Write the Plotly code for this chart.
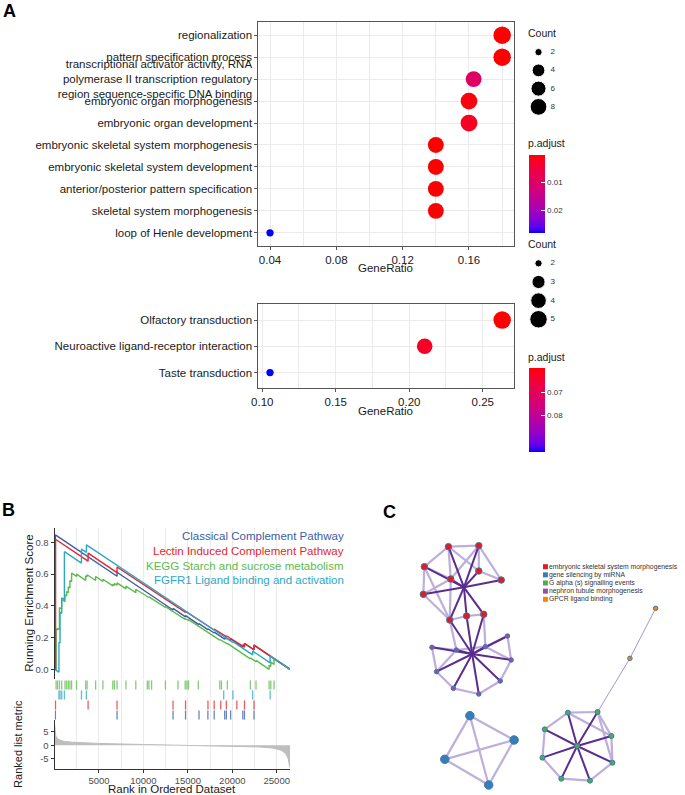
import math
import plotly.graph_objects as go

W, H = 685, 795
FONT = "Liberation Sans, Arial, Helvetica, sans-serif"


def px(x):
    return x / W


def py(y):
    return 1 - y / H


# ---------------- Panel A data (GO) ----------------
go_terms = [
    "regionalization",
    "pattern specification process",
    "transcriptional activator activity, RNA<br>polymerase II transcription regulatory<br>region sequence-specific DNA binding",
    "embryonic organ morphogenesis",
    "embryonic organ development",
    "embryonic skeletal system morphogenesis",
    "embryonic skeletal system development",
    "anterior/posterior pattern specification",
    "skeletal system morphogenesis",
    "loop of Henle development",
]
go_ratio = [0.18, 0.18, 0.1628, 0.16, 0.16, 0.14, 0.14, 0.14, 0.14, 0.04]
go_count = [9, 9, 7, 8, 8, 7, 7, 7, 7, 2]
go_padj = [0.00012, 0.00012, 0.0095, 0.0009, 0.0022, 0.00012, 0.00012, 0.0003, 0.0003, 0.0281]
go_count_breaks = [2, 4, 6, 8]
go_padj_ticks = [0.01, 0.02]
go_x_ticks = [0.04, 0.08, 0.12, 0.16]

# ---------------- Panel A data (KEGG) ----------------
kegg_terms = ["Olfactory transduction", "Neuroactive ligand-receptor interaction", "Taste transduction"]
kegg_ratio = [0.2632, 0.2105, 0.1053]
kegg_count = [5, 4, 2]
kegg_padj = [0.0591, 0.0625, 0.0962]
kegg_count_breaks = [2, 3, 4, 5]
kegg_padj_ticks = [0.07, 0.08]
kegg_x_ticks = [0.10, 0.15, 0.20, 0.25]

# ---------------- Panel B data (GSEA) ----------------
n_genes = 26500
gsea_names = ["Classical Complement Pathway", "Lectin Induced Complement Pathway",
              "KEGG Starch and sucrose metabolism", "FGFR1 Ligand binding and activation"]
cc_hits = [100, 7033, 13333, 14740, 16255, 17255, 17963, 19144, 19330, 19815, 21180, 21370, 22444]
cc_before = [0, 0.587, 0.374, 0.331, 0.282, 0.250, 0.229, 0.190, 0.191, 0.181, 0.140, 0.148, 0.123]
cc_after = [0.848, 0.612, 0.384, 0.339, 0.288, 0.256, 0.235, 0.198, 0.199, 0.191, 0.155, 0.163, 0.153]

lec_hits = [111, 3778, 7033, 13333, 14740, 17263, 17963, 18704, 19330, 20511, 21370, 22444]
lec_before = [0, 0.682, 0.610, 0.4075, 0.3595, 0.2694, 0.248, 0.2251, 0.2065, 0.167, 0.1396, 0.1235]
lec_after = [0.82, 0.733, 0.645, 0.4125, 0.3645, 0.2744, 0.253, 0.2301, 0.2115, 0.172, 0.164, 0.153]

kegg_hits = [178, 333, 556, 811, 1181, 1367, 1556, 1733, 1922, 2478, 3511, 3667, 4622, 5444, 6556, 6733,
             7033, 8033, 9144, 10444, 10622, 10922, 12478, 13889, 14700, 14889, 15067, 16178, 18589, 18778,
             19444, 22033, 22667, 24144, 24333, 24700]
kegg_before = [0, 0.249, 0.250, 0.380, 0.426, 0.463, 0.483, 0.513, 0.553, 0.586, 0.561, 0.584, 0.560, 0.554,
               0.526, 0.529, 0.530, 0.507, 0.483, 0.456, 0.453, 0.446, 0.391, 0.342, 0.315, 0.312, 0.309,
               0.271, 0.184, 0.181, 0.160, 0.066, 0.048, 0.0, 0.018, 0.031]
kegg_after = [0.255, 0.258, 0.39, 0.44, 0.47, 0.49, 0.52, 0.56, 0.607, 0.60, 0.59, 0.596, 0.585, 0.568, 0.536,
              0.541, 0.545, 0.525, 0.505, 0.460, 0.457, 0.450, 0.395, 0.346, 0.319, 0.316, 0.313, 0.275,
              0.188, 0.185, 0.164, 0.072, 0.056, 0.025, 0.045, 0.068]

fgfr_hits = [500, 622, 811, 1111, 3033, 3589, 19033, 20067, 22289, 24256]
fgfr_before = [-0.018, 0.166, 0.353, 0.44, 0.670, 0.737, 0.203, 0.169, 0.091, 0.041]
fgfr_after = [0.17, 0.36, 0.45, 0.742, 0.758, 0.785, 0.208, 0.175, 0.115, 0.085]

metric_rank = [0, 60, 150, 400, 1000, 2000, 3500, 5000, 8000, 11000, 14000, 16800, 19000, 21000, 23000,
               24500, 25500, 26000, 26300, 26450, 26500]
metric_value = [8.1, 5.0, 3.4, 2.2, 1.5, 1.15, 0.9, 0.7, 0.45, 0.25, 0.1, 0.0, -0.15, -0.35, -0.6,
                -1.0, -1.8, -3.0, -5.0, -8.0, -8.0]
rank_ticks = [5000, 10000, 15000, 20000, 25000]
es_ticks = [0.0, 0.2, 0.4, 0.6, 0.8]
metric_ticks = [-5, 0, 5]

# ---------------- Panel C data (network) ----------------
c_legend_labels = ["embryonic skeletal system morphogenesis", "gene silencing by miRNA",
                   "G alpha (s) signalling events", "nephron tubule morphogenesis", "GPCR ligand binding"]
c_group_colors = ["#E41A1C", "#377EB8", "#4DAF4A", "#984EA3", "#FF7F00"]
# layout coordinates of nodes; group index refers to c_legend_labels; -1 = bundling hub (no marker)
node_x = [198, 290, 125, 205, 290, 358, 122, 202, 253, 305,
          377, 148, 222, 310, 388, 162, 355, 213, 290,
          263, 397, 187, 320,
          560, 650, 490, 692, 588, 483, 695, 540, 627,
          826, 748,
          245, 270]
node_y = [140, 137, 200, 237, 213, 240, 283, 360, 348, 343,
          408, 442, 450, 440, 480, 515, 543, 565, 582,
          647, 720, 778, 855,
          638, 636, 688, 708, 738, 773, 788, 836, 842,
          325, 475,
          262, 462]
node_group = [0] * 10 + [3] * 9 + [1] * 4 + [2] * 9 + [4] * 2 + [-1, -1]
edges_strong = [(0, 34), (1, 34), (2, 34), (3, 34), (4, 34), (5, 34), (6, 34), (7, 34), (8, 34), (9, 34),
                (7, 35), (8, 35), (9, 35),
                (10, 35), (11, 35), (12, 35), (13, 35), (14, 35), (15, 35), (16, 35), (17, 35), (18, 35),
                (27, 23), (27, 24), (27, 25), (27, 26), (27, 28), (27, 29), (27, 30), (27, 31)]
edges_weak = [(0, 1), (0, 2), (2, 6), (1, 4), (1, 5), (4, 5), (0, 3), (2, 3), (6, 3), (0, 4), (1, 3),
              (3, 7), (6, 7), (7, 8), (8, 9), (2, 7),
              (11, 15), (15, 17), (17, 18), (18, 16), (16, 14), (14, 10), (10, 13), (11, 12), (12, 13),
              (7, 12), (9, 13), (15, 12), (14, 13),
              (19, 20), (19, 21), (19, 22), (20, 21), (20, 22), (21, 22),
              (23, 24), (24, 26), (26, 29), (29, 31), (31, 30), (30, 28), (28, 25), (25, 23), (23, 26), (24, 29)]
edges_thin = [(24, 33), (33, 32)]


# ---------------- helpers ----------------
def srgb_to_lab(rgb):
    lin = []
    for c in rgb:
        c = c / 255
        lin.append(c / 12.92 if c <= 0.04045 else ((c + 0.055) / 1.055) ** 2.4)
    r, g, b = lin
    X = (0.4124 * r + 0.3576 * g + 0.1805 * b) / 0.95047
    Y = (0.2126 * r + 0.7152 * g + 0.0722 * b)
    Z = (0.0193 * r + 0.1192 * g + 0.9505 * b) / 1.08883
    f = lambda t: t ** (1 / 3) if t > 0.008856 else 7.787 * t + 16 / 116
    fx, fy, fz = f(X), f(Y), f(Z)
    return (116 * fy - 16, 500 * (fx - fy), 200 * (fy - fz))


def lab_to_rgbstr(lab):
    L, a, b = lab
    fy = (L + 16) / 116
    fx = fy + a / 500
    fz = fy - b / 200
    finv = lambda f: f ** 3 if f ** 3 > 0.008856 else (f - 16 / 116) / 7.787
    X = finv(fx) * 0.95047
    Y = finv(fy)
    Z = finv(fz) * 1.08883
    r = 3.2406 * X - 1.5372 * Y - 0.4986 * Z
    g = -0.9689 * X + 1.8758 * Y + 0.0415 * Z
    bb = 0.0557 * X - 0.2040 * Y + 1.0570 * Z
    out = []
    for c in (r, g, bb):
        c = max(0.0, c)
        c = 12.92 * c if c <= 0.0031308 else 1.055 * c ** (1 / 2.4) - 0.055
        out.append(int(round(min(1.0, max(0.0, c)) * 255)))
    return "rgb(%d,%d,%d)" % tuple(out)


lab_blue = srgb_to_lab((0, 0, 255))
lab_red = srgb_to_lab((255, 0, 0))
padj_scale = []
for i in range(21):
    t = i / 20
    padj_scale.append([t, lab_to_rgbstr(tuple(lab_blue[k] * (1 - t) + lab_red[k] * t for k in range(3)))])
padj_scale[0][1] = "rgb(0,0,255)"
padj_scale[-1][1] = "rgb(255,0,0)"


def size_scale(c, cmin, cmax, smin=7.3, smax=17.5):
    return smin + (smax - smin) * math.sqrt((c - cmin) / (cmax - cmin))


def expand(vals, mult=0.05):
    lo, hi = min(vals), max(vals)
    span = hi - lo
    return [lo - mult * span, hi + mult * span]


fig = go.Figure()

TXT = "#1A1A1A"
GRID = "#EBEBEB"
BORDER = "#555555"


def dot_trace(ratios, terms, counts, padj, ticks, xa, ya, cb_y, cb_len):
    cmin, cmax = min(counts), max(counts)
    return go.Scatter(
        x=ratios, y=terms, mode="markers", xaxis=xa, yaxis=ya, showlegend=False, hoverinfo="skip",
        marker=dict(
            size=[size_scale(c, cmin, cmax) for c in counts], opacity=1,
            color=[-p for p in padj], cmin=-max(padj), cmax=-min(padj),
            colorscale=padj_scale, showscale=True, line=dict(width=0),
            colorbar=dict(x=px(527), xanchor="left", xpad=0, y=cb_y, yanchor="middle", ypad=0,
                          len=cb_len, lenmode="pixels", thickness=16, thicknessmode="pixels",
                          outlinewidth=0, ticks="inside", ticklen=4, tickcolor="white",
                          tickvals=[-v for v in ticks], ticktext=[f"{v:.2f}" for v in ticks],
                          tickfont=dict(family=FONT, size=8, color="#333333")),
        ))


fig.add_trace(dot_trace(go_ratio, go_terms, go_count, go_padj, go_padj_ticks, "x", "y", py(194), 78))
fig.add_trace(dot_trace(kegg_ratio, kegg_terms, kegg_count, kegg_padj, kegg_padj_ticks, "x2", "y2", py(410), 84))

# Count legends (hidden axes)
for xa, ya, breaks, counts in (("x3", "y3", go_count_breaks, go_count), ("x4", "y4", kegg_count_breaks, kegg_count)):
    cmin, cmax = min(counts), max(counts)
    idx = list(range(len(breaks)))
    fig.add_trace(go.Scatter(x=[10] * len(breaks), y=idx, mode="markers", xaxis=xa, yaxis=ya,
                             showlegend=False, hoverinfo="skip",
                             marker=dict(color="black", opacity=1, size=[size_scale(b, cmin, cmax) for b in breaks])))
    fig.add_trace(go.Scatter(x=[22] * len(breaks), y=idx, mode="text", xaxis=xa, yaxis=ya,
                             text=[str(b) for b in breaks], textposition="middle right",
                             textfont=dict(family=FONT, size=8, color="#333333"),
                             showlegend=False, hoverinfo="skip"))

# ---------------- Panel B traces ----------------
gsea_colors = ["#3B5DA6", "#E5262B", "#5DBB4C", "#2EA7C6"]
gsea_sets = [(cc_hits, cc_before, cc_after), (lec_hits, lec_before, lec_after),
             (kegg_hits, kegg_before, kegg_after), (fgfr_hits, fgfr_before, fgfr_after)]
draw_order = [2, 0, 1, 3]
for k in draw_order:
    hits, bef, aft = gsea_sets[k]
    xs, ys = [0], [0]
    for h, b, a in zip(hits, bef, aft):
        xs += [h, h]
        ys += [b, a]
    xs.append(n_genes)
    ys.append(0)
    fig.add_trace(go.Scatter(x=xs, y=ys, mode="lines", xaxis="x5", yaxis="y5", showlegend=False,
                             hoverinfo="skip", line=dict(color=gsea_colors[k], width=1.4)))

rug_row = {2: 3, 3: 2, 1: 1, 0: 0}
for k in range(4):
    hits = gsea_sets[k][0]
    row = rug_row[k]
    xs, ys = [], []
    for h in hits:
        xs += [h, h, None]
        ys += [row + 0.04, row + 0.96, None]
    fig.add_trace(go.Scatter(x=xs, y=ys, mode="lines", xaxis="x6", yaxis="y6", showlegend=False,
                             hoverinfo="skip", opacity=0.75, line=dict(color=gsea_colors[k], width=1.3)))

fig.add_trace(go.Scatter(x=metric_rank, y=metric_value, mode="lines", fill="tozeroy", xaxis="x7", yaxis="y7",
                         showlegend=False, hoverinfo="skip", line=dict(color="#BEBEBE", width=1),
                         fillcolor="#BEBEBE"))

# ---------------- Panel C traces ----------------
def edge_xy(edges):
    xs, ys = [], []
    for a, b in edges:
        xs += [node_x[a], node_x[b], None]
        ys += [node_y[a], node_y[b], None]
    return xs, ys


for edges, col, wid, op in ((edges_thin, "#A996CF", 1.0, 1.0), (edges_weak, "#B3A0D6", 2.2, 0.85),
                            (edges_strong, "#5A2D8F", 2.0, 1.0)):
    ex, ey = edge_xy(edges)
    fig.add_trace(go.Scatter(x=ex, y=ey, mode="lines", xaxis="x8", yaxis="y8", showlegend=False,
                             hoverinfo="skip", opacity=op, line=dict(color=col, width=wid)))

group_size = {0: 6.5, 1: 8.5, 2: 5.0, 3: 4.5, 4: 4.5}
for g in range(5):
    ids = [i for i, gg in enumerate(node_group) if gg == g]
    fig.add_trace(go.Scatter(x=[node_x[i] for i in ids], y=[node_y[i] for i in ids], mode="markers",
                             xaxis="x8", yaxis="y8", showlegend=False, hoverinfo="skip",
                             marker=dict(color=c_group_colors[g], size=group_size[g], opacity=1,
                                         line=dict(color="#3A7AB3", width=1))))

# ---------------- Layout ----------------
axis_font = dict(family=FONT, size=11.5, color=TXT)

go_xr = expand(go_ratio)
kegg_xr = expand(kegg_ratio)

layout = dict(
    width=W, height=H, margin=dict(l=0, r=0, t=0, b=0),
    paper_bgcolor="white", plot_bgcolor="white", showlegend=False,
    font=dict(family=FONT),
    xaxis=dict(domain=[px(254), px(512)], range=go_xr, anchor="y", tickvals=go_x_ticks,
               ticktext=[f"{v:.2f}" for v in go_x_ticks], showgrid=True, gridcolor=GRID, gridwidth=1,
               minor=dict(dtick=0.02, tick0=0, showgrid=True, gridcolor=GRID, ticks=""),
               showline=True, mirror=True, linecolor=BORDER, linewidth=1, ticks="outside", ticklen=3,
               tickcolor=BORDER, tickfont=axis_font, zeroline=False),
    yaxis=dict(domain=[py(246), py(22)], anchor="x", type="category", categoryorder="array",
               categoryarray=go_terms, range=[len(go_terms) - 0.4, -0.6], showgrid=True, gridcolor=GRID,
               showline=True, mirror=True, linecolor=BORDER, linewidth=1, ticks="outside", ticklen=3,
               tickcolor=BORDER, tickfont=axis_font, zeroline=False),
    xaxis2=dict(domain=[px(254), px(512)], range=kegg_xr, anchor="y2", tickvals=kegg_x_ticks,
                ticktext=[f"{v:.2f}" for v in kegg_x_ticks], showgrid=True, gridcolor=GRID,
                minor=dict(dtick=0.025, tick0=0, showgrid=True, gridcolor=GRID, ticks=""),
                showline=True, mirror=True, linecolor=BORDER, linewidth=1, ticks="outside", ticklen=3,
                tickcolor=BORDER, tickfont=axis_font, zeroline=False),
    yaxis2=dict(domain=[py(388.3), py(304.3)], anchor="x2", type="category", categoryorder="array",
                categoryarray=kegg_terms, range=[len(kegg_terms) - 0.4, -0.6], showgrid=True, gridcolor=GRID,
                showline=True, mirror=True, linecolor=BORDER, linewidth=1, ticks="outside", ticklen=3,
                tickcolor=BORDER, tickfont=axis_font, zeroline=False),
    xaxis3=dict(domain=[px(527), px(565)], range=[0, 38], anchor="y3", visible=False),
    yaxis3=dict(domain=[py(116), py(43)], range=[3.5, -0.5], anchor="x3", visible=False),
    xaxis4=dict(domain=[px(527), px(565)], range=[0, 38], anchor="y4", visible=False),
    yaxis4=dict(domain=[py(328.6), py(254)], range=[3.5, -0.5], anchor="x4", visible=False),
)

gsea_x = dict(domain=[px(48), px(286)], range=[0, n_genes], showgrid=True, gridcolor=GRID, dtick=5000, tick0=0,
              minor=dict(dtick=2500, tick0=0, showgrid=True, gridcolor=GRID, ticks=""), zeroline=False)
layout["xaxis5"] = dict(gsea_x, anchor="y5", showticklabels=False, ticks="")
layout["yaxis5"] = dict(domain=[py(679), py(528)], anchor="x5", range=[-0.061, 0.891], tickvals=es_ticks,
                        ticktext=[f"{v:.1f}" for v in es_ticks], ticks="outside", ticklen=3, tickcolor="#333",
                        showline=True, linecolor="#333", linewidth=1, showgrid=False, zeroline=False,
                        tickfont=dict(family=FONT, size=9.5, color="#4D4D4D"))
layout["xaxis6"] = dict(gsea_x, anchor="y6", showticklabels=False, ticks="")
layout["yaxis6"] = dict(domain=[py(720), py(680)], anchor="x6", range=[0, 4], visible=False)
layout["xaxis7"] = dict(gsea_x, anchor="y7", tickmode="array", tickvals=rank_ticks,
                        ticktext=[str(v) for v in rank_ticks], ticks="outside", ticklen=3, tickcolor="#333",
                        showline=True, linecolor="#333", linewidth=1,
                        tickfont=dict(family=FONT, size=9.5, color="#4D4D4D"))
layout["yaxis7"] = dict(domain=[py(769), py(720)], anchor="x7", range=[-8.7, 9.3], tickvals=metric_ticks,
                        ticktext=[str(v) for v in metric_ticks], ticks="outside", ticklen=3, tickcolor="#333",
                        showline=True, linecolor="#333", linewidth=1, showgrid=False, zeroline=False,
                        tickfont=dict(family=FONT, size=9.5, color="#4D4D4D"))
layout["xaxis8"] = dict(domain=[px(380), 1], range=[0, 915], anchor="y8", visible=False)
layout["yaxis8"] = dict(domain=[0, py(500)], range=[885, 0], anchor="x8", visible=False)

fig.update_layout(**layout)

# ---------------- Annotations & shapes ----------------
ann = []
LEFT_PAD = 3  # compensation for annotation box padding on left-anchored texts


def A(text, x, y, size, color=TXT, xanchor="center", yanchor="middle", bold=False, angle=0):
    if xanchor == "left":
        x -= LEFT_PAD
    elif xanchor == "right":
        x += LEFT_PAD
    ann.append(dict(text=f"<b>{text}</b>" if bold else text, x=px(x), y=py(y), xref="paper", yref="paper",
                    xanchor=xanchor, yanchor=yanchor, showarrow=False, textangle=angle,
                    font=dict(family=FONT, size=size, color=color)))


A("A", -3, 11, 18, "black", xanchor="left", bold=True)
A("B", -4, 510, 18, "black", xanchor="left", bold=True)
A("C", 381, 512, 18, "black", xanchor="left", bold=True)

A("GeneRatio", 382, 268, 11.5)
A("GeneRatio", 382, 410.5, 11.5)
A("Count", 527, 33, 10.5, xanchor="left")
A("p.adjust", 527, 143, 10.5, xanchor="left")
A("Count", 527, 243.5, 10.5, xanchor="left")
A("p.adjust", 527, 357, 10.5, xanchor="left")

legend_y = [536, 551, 565.5, 580]
for k in range(4):
    A(gsea_names[k], 340, legend_y[k], 11.5, gsea_colors[k], xanchor="right")
A("Running Enrichment Score", 22, 603, 11.5, angle=-90)
A("Ranked list metric", 11, 744, 11, angle=-90)
A("Rank in Ordered Dataset", 167, 789, 11.5)

shapes = []
for i, (lab, col) in enumerate(zip(c_legend_labels, c_group_colors)):
    yc = 566.7 + i * 8.15
    shapes.append(dict(type="rect", xref="paper", yref="paper", x0=px(541.5), x1=px(546.5),
                       y0=py(yc + 2.5), y1=py(yc - 2.5), fillcolor=col, line=dict(width=0)))
    A(lab, 548.3, yc, 6.8, "#333333", xanchor="left")

fig.update_layout(annotations=ann, shapes=shapes)
fig.write_html("out.html", config={"displayModeBar": False})

# remove the default page margin so the figure starts at the window's corner
with open("out.html", "r", encoding="utf-8") as fh:
    html = fh.read()
html = html.replace("<head>", "<head><style>html,body{margin:0;padding:0;overflow:hidden;}</style>", 1)
with open("out.html", "w", encoding="utf-8") as fh:
    fh.write(html)
